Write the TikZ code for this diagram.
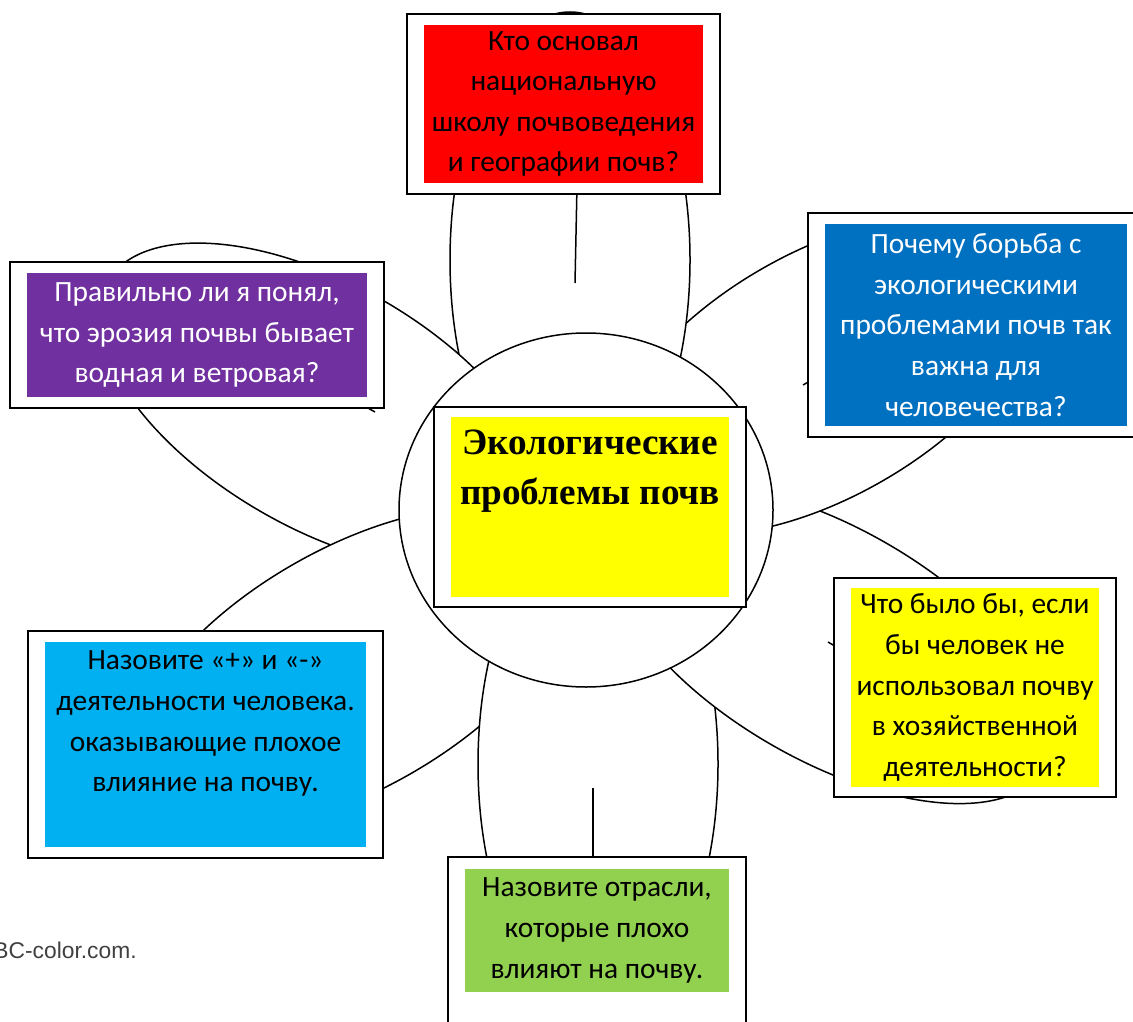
\documentclass[tikz,border=0pt]{standalone}
\usepackage{fontspec}
\setmainfont{Carlito}
\newfontfamily\hubfont{Liberation Serif}
\newfontfamily\markfont{Liberation Sans}
\usetikzlibrary{fit}
\pgfdeclarelayer{flower}
\pgfdeclarelayer{frames}
\pgfsetlayers{flower,frames,main}
\definecolor{qred}{HTML}{FF0000}
\definecolor{qblue}{HTML}{0070C0}
\definecolor{qpurple}{HTML}{7030A0}
\definecolor{qyellow}{HTML}{FFFF00}
\definecolor{qcyan}{HTML}{00B0F0}
\definecolor{qgreen}{HTML}{92D050}

\begin{document}
\begin{tikzpicture}[x=0.5pt, y=-0.5pt,
    petal/.style={draw=black, fill=white, line width=0.75pt},
    vein/.style={draw=black, line width=0.75pt},
    card/.style={inner sep=0pt, align=center, font=\fontsize{14.7}{20.3}\selectfont},
    frame/.style={draw=black, fill=white, line width=1pt, inner xsep=8.25pt, inner ysep=5.25pt}]
  \useasboundingbox (0,0) rectangle (1133,1021);

  \begin{pgfonlayer}{flower}
    \fill[white] (0,0) rectangle (1133,1021);
    % petals, each one over the next
    \draw[petal, shift={(322,406)}, rotate=150] (0,0) ellipse [x radius=124pt, y radius=61pt];
    \draw[petal, shift={(352,669)}, rotate=30] (0,0) ellipse [x radius=124pt, y radius=60pt];
    \draw[petal, shift={(598,764)}, rotate=90] (0,0) ellipse [x radius=124pt, y radius=60pt];
    \draw[petal, shift={(829,644)}, rotate=-30] (0,0) ellipse [x radius=124pt, y radius=58pt];
    \draw[petal, shift={(822,375)}, rotate=30] (0,0) ellipse [x radius=120pt, y radius=61pt];
    \draw[petal, shift={(570,260)}, rotate=90] (0,0) ellipse [x radius=124pt, y radius=60pt];
    % the left petal lies over the top one
    \begin{scope}
      \clip[shift={(570,260)}, rotate=90] (0,0) ellipse [x radius=125.5pt, y radius=61.5pt];
      \draw[petal, shift={(322,406)}, rotate=150] (0,0) ellipse [x radius=124pt, y radius=61pt];
    \end{scope}
    % midribs
    \draw[vein] (577,185) -- (575,283);
    \draw[vein] (803,385) -- (840,364);
    \draw[vein] (828,642) -- (850,655);
    \draw[vein] (593,788) -- (593,870);
    \draw[vein] (350,398) -- (375,412);
    \draw[petal] (586,510) ellipse [x radius=93.5pt, y radius=88.5pt];
  \end{pgfonlayer}

  \node[card, fill=qyellow, font=\hubfont\bfseries\fontsize{18.6}{25}\selectfont] (hub) at (590,507)
    {\parbox[c][90pt][t]{139pt}{\centering\vspace*{6.2pt}Экологические\\проблемы почв}};
  \node[card, fill=qred, minimum width=139.5pt, minimum height=79pt] (founder) at (563.5,104)
    {Кто основал\\национальную\\школу почвоведения\\и географии почв?};
  \node[card, fill=qblue, text=white, minimum width=151pt, minimum height=101pt] (struggle) at (976,325)
    {Почему борьба с\\экологическими\\проблемами почв так\\важна для\\человечества?};
  \node[card, fill=qpurple, text=white, minimum width=170pt, minimum height=62pt] (erosion) at (197,335)
    {Правильно ли я понял,\\что эрозия почвы бывает\\водная и ветровая?};
  \node[card, fill=qyellow, minimum width=124pt, minimum height=99.5pt] (whatif) at (975,687.5)
    {Что было бы, если\\бы человек не\\использовал почву\\в хозяйственной\\деятельности?};
  \node[card, fill=qcyan] (activity) at (205.5,744.5)
    {\parbox[c][102.5pt][t]{160.5pt}{\centering\vspace*{4.5pt}Назовите «+» и «-»\\деятельности человека.\\оказывающие плохое\\влияние на почву.}};
  \node[card, fill=qgreen, minimum width=132pt, minimum height=61.5pt] (industry) at (597,930.5)
    {Назовите отрасли,\\которые плохо\\влияют на почву.};
  \coordinate (ground) at (597,1045);

  \begin{pgfonlayer}{frames}
    \node[frame, inner ysep=5pt, fit=(hub)] (hubframe) {};
    \node[frame, fit=(founder)] (founderframe) {};
    \node[frame, fit=(struggle)] (struggleframe) {};
    \node[frame, fit=(erosion)] (erosionframe) {};
    \node[frame, inner ysep=5pt, fit=(whatif)] (whatifframe) {};
    \node[frame, fit=(activity)] (activityframe) {};
    \node[frame, inner ysep=6pt, fit=(industry) (ground)] (industryframe) {};
  \end{pgfonlayer}

  \node[anchor=base east, inner sep=0pt, text=black!75, font=\markfont\fontsize{11.4}{13}\selectfont] (credit) at (137,958) {BC-color.com.};
\end{tikzpicture}
\end{document}
